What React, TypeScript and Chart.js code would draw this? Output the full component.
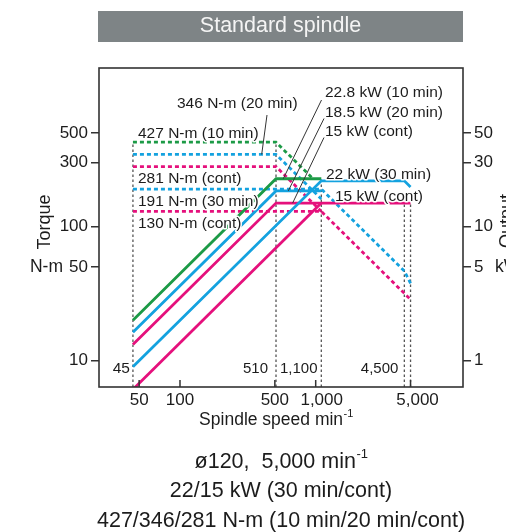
import React, { useEffect, useRef } from "react";
import { Chart, registerables } from "chart.js";

Chart.register(...registerables);

const FONT = "'Liberation Sans', Arial, Helvetica, sans-serif";

// ---------- data (speed in min^-1, power in kW, torque in N-m) ----------
// Output (solid lines, right axis)
const p10Speed = [45, 510, 1100];
const p10KW = [2.0, 22.8, 22.8];
const p20Speed = [45, 510, 1100];
const p20KW = [1.63, 18.5, 18.5];
const p30Speed = [45, 1100, 4500, 5000];
const p30KW = [0.9, 22, 22, 19.8];
const pContASpeed = [45, 510, 5000];
const pContAKW = [1.32, 15, 15];
const pContBSpeed = [45, 1100];
const pContBKW = [0.61, 15];

// Torque (dashed lines, left axis)
const t10Speed = [45, 510, 960];
const t10Nm = [427, 427, 227];
const t20Speed = [45, 510, 1100];
const t20Nm = [346, 346, 161];
const t30Speed = [45, 1100, 4500, 5000];
const t30Nm = [191, 191, 46.7, 37.8];
const tContASpeed = [45, 510, 1100];
const tContANm = [281, 281, 130];
const tContBSpeed = [45, 1100, 5000];
const tContBNm = [130, 130, 28.6];

// Vertical guide lines
const guideSpeeds = [45, 510, 1100, 4500, 5000];
const guideTopNm = [427, 427, 228, 150, 150];
const guideLabels = ["45", "510", "1,100", "4,500"];

// Axes
const xTicks = [50, 100, 500, 1000, 5000];
const xTickLabels = ["50", "100", "500", "1,000", "5,000"];
const torqueTicks = [10, 50, 100, 300, 500];
const outputTicks = [1, 5, 10, 30, 50];
const X_MIN = 25.3;
const X_MAX = 12177;
const T_MIN = 6.36;
const T_MAX = 1529;
const P_MIN = 0.636;
const P_MAX = 152.9;

const GREEN = "#1c9a46";
const BLUE = "#14a2df";
const MAGENTA = "#e5107c";
const INK = "#1c1c1c";

function pts(xs: number[], ys: number[]) {
  return xs.map((x, i) => ({ x, y: ys[i] }));
}

function solid(xs: number[], ys: number[], color: string) {
  return {
    data: pts(xs, ys),
    yAxisID: "yR",
    borderColor: color,
    borderWidth: 2.8,
    pointRadius: 0,
    fill: false,
    tension: 0,
    order: 1,
  };
}

function dashed(xs: number[], ys: number[], color: string) {
  return {
    data: pts(xs, ys),
    yAxisID: "yL",
    borderColor: color,
    borderWidth: 2.8,
    borderDash: [4, 3],
    pointRadius: 0,
    fill: false,
    tension: 0,
    order: 2,
  };
}

function text(
  ctx: CanvasRenderingContext2D,
  s: string,
  x: number,
  y: number,
  size: number,
  align: CanvasTextAlign = "left",
  color = INK,
  halo = false
) {
  ctx.font = `${size}px ${FONT}`;
  ctx.textAlign = align;
  ctx.textBaseline = "middle";
  if (halo) {
    ctx.strokeStyle = "#ffffff";
    ctx.lineWidth = 3;
    ctx.lineJoin = "round";
    ctx.setLineDash([]);
    ctx.strokeText(s, x, y);
  }
  ctx.fillStyle = color;
  ctx.fillText(s, x, y);
}

function textSup(
  ctx: CanvasRenderingContext2D,
  main: string,
  sup: string,
  cx: number,
  y: number,
  size: number,
  supSize: number
) {
  ctx.font = `${size}px ${FONT}`;
  const w1 = ctx.measureText(main).width;
  ctx.font = `${supSize}px ${FONT}`;
  const w2 = ctx.measureText(sup).width;
  const x0 = cx - (w1 + w2) / 2;
  text(ctx, main, x0, y, size, "left");
  text(ctx, sup, x0 + w1 + 0.5, y - size * 0.33, supSize, "left");
}

const decor = {
  id: "decor",
  afterDatasetsDraw(chart: any) {
    const { ctx, chartArea: a, scales } = chart;
    const x = scales.x;
    const yL = scales.yL;
    const yR = scales.yR;
    ctx.save();

    // frame
    ctx.setLineDash([]);
    ctx.strokeStyle = "#333";
    ctx.lineWidth = 1.6;
    ctx.strokeRect(a.left, a.top, a.right - a.left, a.bottom - a.top);

    // x ticks (inward) + labels
    const labelShift = [0, 0, 0, 6, 7];
    ctx.lineWidth = 1.5;
    xTicks.forEach((v, i) => {
      const px = x.getPixelForValue(v);
      ctx.beginPath();
      ctx.moveTo(px, a.bottom);
      ctx.lineTo(px, a.bottom - 7);
      ctx.stroke();
      text(ctx, xTickLabels[i], px + labelShift[i], a.bottom + 13, 17, "center");
    });

    // guide value labels
    const gy = a.bottom - 18;
    text(ctx, guideLabels[0], x.getPixelForValue(guideSpeeds[0]) - 3, gy, 15.5, "right");
    text(ctx, guideLabels[1], x.getPixelForValue(guideSpeeds[1]) - 8, gy, 15, "right");
    text(ctx, guideLabels[2], x.getPixelForValue(guideSpeeds[1]) + 4, gy, 15, "left");
    text(ctx, guideLabels[3], x.getPixelForValue(guideSpeeds[3]) - 6, gy, 15, "right");

    // axis titles
    textSup(ctx, "Spindle speed min", "-1", 276, a.bottom + 33, 17.5, 11);

    ctx.save();
    ctx.translate(45, 222);
    ctx.rotate(-Math.PI / 2);
    text(ctx, "Torque", 0, 0, 18, "center");
    ctx.restore();
    text(ctx, "N-m", 63, yL.getPixelForValue(50), 17.5, "right");

    ctx.save();
    ctx.translate(498, 221);
    ctx.rotate(-Math.PI / 2);
    ctx.font = `18px ${FONT}`;
    ctx.textAlign = "center";
    ctx.textBaseline = "top";
    ctx.fillStyle = INK;
    ctx.fillText("Output", 0, 0);
    ctx.restore();
    text(ctx, "kW", 495, yR.getPixelForValue(5), 17.5, "left");

    // leader lines
    ctx.strokeStyle = "#333";
    ctx.lineWidth = 1;
    ctx.setLineDash([]);
    const leaders: [number, number, number, any][] = [
      [267, 115, 400, 346],
      [321.5, 100, 577, 22.8],
      [324, 118.5, 628, 18.5],
      [324, 137.5, 676, 15],
    ];
    leaders.forEach(([sx, sy, vx, vy], i) => {
      const scale = i === 0 ? yL : yR;
      ctx.beginPath();
      ctx.moveTo(sx, sy);
      ctx.lineTo(x.getPixelForValue(vx), scale.getPixelForValue(vy));
      ctx.stroke();
    });

    // in-plot labels
    const L = 15.5;
    text(ctx, "346 N-m (20 min)", 177, 104, L, "left", INK, true);
    text(ctx, "427 N-m (10 min)", 138, 134, L, "left", INK, true);
    text(ctx, "281 N-m (cont)", 138, 179, L, "left", INK, true);
    text(ctx, "191 N-m (30 min)", 138, 202, L, "left", INK, true);
    text(ctx, "130 N-m (cont)", 138, 224, L, "left", INK, true);
    text(ctx, "22.8 kW (10 min)", 325, 93, L, "left", INK, true);
    text(ctx, "18.5 kW (20 min)", 325, 113, L, "left", INK, true);
    text(ctx, "15 kW (cont)", 325, 132, L, "left", INK, true);
    text(ctx, "22 kW (30 min)", 326, 175, L, "left", INK, true);
    text(ctx, "15 kW (cont)", 335, 197, L, "left", INK, true);

    // title box
    ctx.fillStyle = "#7e8486";
    ctx.fillRect(98, 11, 365, 31);
    text(ctx, "Standard spindle", 280.5, 26.5, 21.5, "center", "#f4f4f4");

    // caption
    const cx = 281;
    textSup(ctx, "\u00f8120,  5,000 min", "-1", cx, 462, 21.5, 13);
    text(ctx, "22/15 kW (30 min/cont)", cx, 491, 21.5, "center");
    text(ctx, "427/346/281 N-m (10 min/20 min/cont)", cx, 521.5, 21.5, "center");

    ctx.restore();
  },
};

export default function App() {
  const ref = useRef<HTMLCanvasElement | null>(null);

  useEffect(() => {
    if (!ref.current) return;
    Chart.defaults.font.family = FONT;
    const guideSets = guideSpeeds.map((s, i) => ({
      data: [
        { x: s, y: T_MIN },
        { x: s, y: guideTopNm[i] },
      ],
      yAxisID: "yL",
      borderColor: "#555",
      borderWidth: 1.3,
      borderDash: [2.5, 2.5],
      pointRadius: 0,
      fill: false,
      order: 3,
    }));

    const chart = new Chart(ref.current, {
      type: "line",
      data: {
        datasets: [
          ...guideSets,
          dashed(t10Speed, t10Nm, GREEN),
          dashed(t20Speed, t20Nm, BLUE),
          dashed(tContASpeed, tContANm, MAGENTA),
          dashed(t30Speed, t30Nm, BLUE),
          dashed(tContBSpeed, tContBNm, MAGENTA),
          solid(pContBSpeed, pContBKW, MAGENTA),
          solid(p30Speed, p30KW, BLUE),
          solid(pContASpeed, pContAKW, MAGENTA),
          solid(p20Speed, p20KW, BLUE),
          solid(p10Speed, p10KW, GREEN),
        ] as any,
      },
      options: {
        responsive: false,
        animation: false,
        devicePixelRatio: 1,
        layout: { padding: { top: 68, left: 0, right: 0, bottom: 0 } },
        plugins: {
          legend: { display: false },
          tooltip: { enabled: false },
          title: { display: false },
        },
        events: [],
        scales: {
          x: {
            type: "logarithmic",
            min: X_MIN,
            max: X_MAX,
            bounds: "data",
            ticks: { display: false },
            grid: { display: false },
            border: { display: false },
            afterFit: (s: any) => {
              s.height = 145;
            },
          },
          yL: {
            type: "logarithmic",
            position: "left",
            min: T_MIN,
            max: T_MAX,
            bounds: "data",
            afterBuildTicks: (s: any) => {
              s.ticks = torqueTicks.map((v) => ({ value: v }));
            },
            ticks: {
              callback: (v: any) => String(v),
              font: { size: 17, family: FONT },
              color: INK,
              padding: 3,
              autoSkip: false,
            },
            grid: {
              drawOnChartArea: false,
              drawTicks: true,
              tickLength: 8,
              color: "#333",
              lineWidth: 1.5,
            },
            border: { display: false },
            afterFit: (s: any) => {
              s.width = 99;
            },
          },
          yR: {
            type: "logarithmic",
            position: "right",
            min: P_MIN,
            max: P_MAX,
            bounds: "data",
            afterBuildTicks: (s: any) => {
              s.ticks = outputTicks.map((v) => ({ value: v }));
            },
            ticks: {
              callback: (v: any) => String(v),
              font: { size: 17, family: FONT },
              color: INK,
              padding: 3,
              autoSkip: false,
            },
            grid: {
              drawOnChartArea: false,
              drawTicks: true,
              tickLength: 8,
              color: "#333",
              lineWidth: 1.5,
            },
            border: { display: false },
            afterFit: (s: any) => {
              s.width = 43;
            },
          },
        },
      } as any,
      plugins: [decor],
    });
    return () => chart.destroy();
  }, []);

  return (
    <div style={{ position: "absolute", left: 0, top: 0, width: 506, height: 532, background: "#fff" }}>
      <canvas ref={ref} width={506} height={532} style={{ display: "block" }} />
    </div>
  );
}
